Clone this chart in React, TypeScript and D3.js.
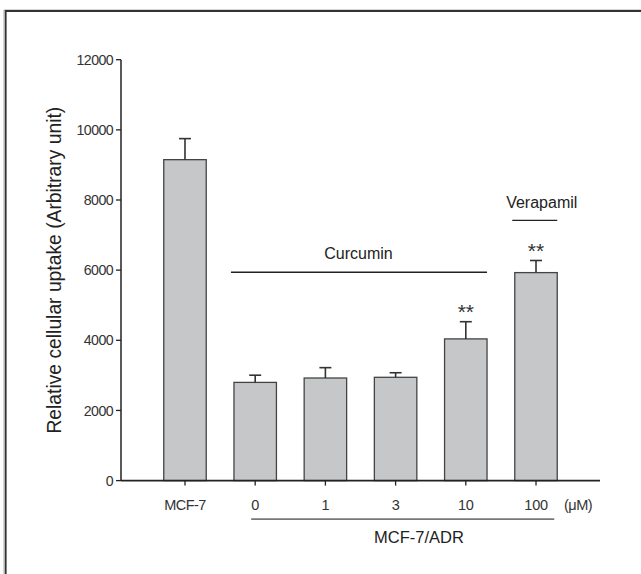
import React from 'react';
import { scaleBand, scaleLinear } from 'd3';

// values
const groups = ['MCF-7', '0', '1', '3', '10', '100'];
const means = [9150, 2800, 2925, 2945, 4040, 5930];
const errors = [600, 205, 295, 130, 490, 345];
const marks = ['', '', '', '', '**', '**'];
const yTicks = [0, 2000, 4000, 6000, 8000, 10000, 12000];

const width = 641;
const height = 574;
const left = 121;
const right = 600;
const top = 59.7;
const bottom = 480.6;

const font = 'Liberation Sans, Arial, sans-serif';

const App = () => {
  const x = scaleBand<string>()
    .domain(groups)
    .range([left, right])
    .paddingInner(0.395)
    .paddingOuter(0.609);

  const y = scaleLinear().domain([0, 12000]).range([bottom, top]);

  const bw = x.bandwidth();
  const cx = (g: string) => (x(g) as number) + bw / 2;

  // curcumin bracket, verapamil bracket, MCF-7/ADR underline
  const curY = y(5940);
  const verY = y(7420);
  const curX1 = (x('0') as number) - 3;
  const curX2 = (x('10') as number) + bw;
  const verX1 = (x('100') as number) - 2.5;
  const verX2 = (x('100') as number) + bw;
  const underY = bottom + 38.5;

  return (
    <svg
      width={width}
      height={height}
      style={{ position: 'absolute', left: 0, top: 0, background: '#fff' }}
      fontFamily={font}
    >
      {/* frame */}
      <path d={`M4,${height} V10 H${width}`} fill="none" stroke="#aaa" strokeWidth={1} />
      <path d={`M5.7,${height} V11 H${width}`} fill="none" stroke="#333" strokeWidth={1.8} />

      {/* bars */}
      {groups.map((g, i) => (
        <rect
          key={g}
          x={x(g)}
          y={y(means[i])}
          width={bw}
          height={bottom - y(means[i])}
          fill="#c6c7c9"
          stroke="#444"
          strokeWidth={1.3}
        />
      ))}

      {/* error bars */}
      {groups.map((g, i) => (
        <g key={g} stroke="#333" strokeWidth={1.6}>
          <line x1={cx(g)} x2={cx(g)} y1={y(means[i])} y2={y(means[i] + errors[i])} />
          <line x1={cx(g) - 6} x2={cx(g) + 6} y1={y(means[i] + errors[i])} y2={y(means[i] + errors[i])} />
        </g>
      ))}

      {/* significance */}
      {groups.map((g, i) =>
        marks[i] ? (
          <text
            key={g}
            x={cx(g)}
            y={y(means[i] + errors[i]) - 3}
            textAnchor="middle"
            fontSize={21}
            fill="#333"
          >
            {marks[i]}
          </text>
        ) : null
      )}

      {/* y axis */}
      <line x1={left} x2={left} y1={top} y2={bottom} stroke="#222" strokeWidth={1.5} />
      {yTicks.map(t => (
        <g key={t} transform={`translate(0, ${y(t)})`}>
          <line x1={left - 5} x2={left} stroke="#222" strokeWidth={1.3} />
          <text x={left - 8} dy=".36em" textAnchor="end" fontSize={14.2} fill="#333" letterSpacing={-0.6}>
            {t}
          </text>
        </g>
      ))}

      {/* x axis */}
      <line x1={left} x2={right} y1={bottom} y2={bottom} stroke="#222" strokeWidth={1.6} />
      {groups.map(g => (
        <g key={g} transform={`translate(${cx(g)}, ${bottom})`}>
          <line y1={0} y2={5} stroke="#222" strokeWidth={1.3} />
          <text y={29.5} textAnchor="middle" fontSize={14.5} fill="#333" letterSpacing={g === 'MCF-7' ? -0.6 : -0.3}>
            {g}
          </text>
        </g>
      ))}
      <text x={578} y={bottom + 29.5} textAnchor="middle" fontSize={14.5} fill="#333" letterSpacing={-0.5}>
        (μM)
      </text>

      {/* annotations */}
      <line x1={curX1} x2={curX2} y1={curY} y2={curY} stroke="#222" strokeWidth={1.4} />
      <text x={(curX1 + curX2) / 2 - 0.5} y={curY - 13} textAnchor="middle" fontSize={16} fill="#222">
        Curcumin
      </text>
      <line x1={verX1} x2={verX2} y1={verY} y2={verY} stroke="#222" strokeWidth={1.4} />
      <text x={(verX1 + verX2) / 2 + 7} y={verY - 12.5} textAnchor="middle" fontSize={16} fill="#222">
        Verapamil
      </text>
      <line x1={cx('0') - 4} x2={(x('100') as number) + bw - 3} y1={underY} y2={underY} stroke="#777" strokeWidth={1.6} />
      <text x={419} y={underY + 24} textAnchor="middle" fontSize={16.5} fill="#222">
        MCF-7/ADR
      </text>

      {/* y label */}
      <text
        transform={`translate(61, ${(top + bottom) / 2}) rotate(-90)`}
        textAnchor="middle"
        fontSize={19.3}
        fill="#222"
      >
        Relative cellular uptake (Arbitrary unit)
      </text>
    </svg>
  );
};

export default App;
